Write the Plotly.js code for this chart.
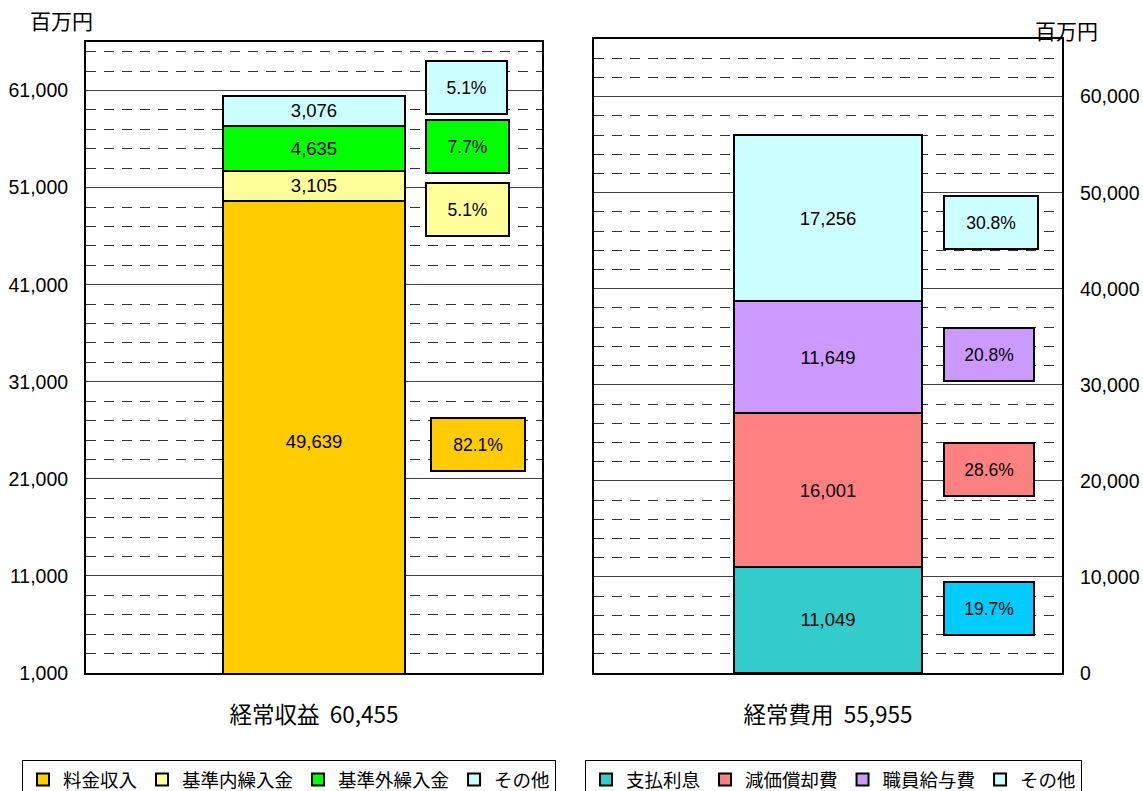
<!DOCTYPE html>
<html>
<head>
<meta charset="utf-8">
<script src="https://cdn.plot.ly/plotly-3.0.1.min.js"></script>
<style>
html,body{margin:0;padding:0;background:#fff;}
#chart{width:1143px;height:791px;}
</style>
</head>
<body>
<div id="chart"></div>
<script>
// ---- data ----
const revenueTitle = '経常収益';
const revenueItems = ['料金収入', '基準内繰入金', '基準外繰入金', 'その他'];
const revenueValues = [49639, 3105, 4635, 3076];

const expenseTitle = '経常費用';
const expenseItems = ['支払利息', '減価償却費', '職員給与費', 'その他'];
const expenseValues = [11049, 16001, 11649, 17256];

const unitLabel = '百万円';

// ---- styles ----
const revenueColors = ['#FFCC00', '#FFFF99', '#00FF00', '#CCFFFF'];
const expenseColors = ['#33CCCC', '#FF8080', '#CC99FF', '#CCFFFF'];
const revenueBoxColors = ['#FFCC00', '#FFFF99', '#00FF00', '#CCFFFF'];
const expenseBoxColors = ['#00CCFF', '#FF8080', '#CC99FF', '#CCFFFF'];
// box placement (x in axis-domain fraction, y in data units, width)
const revenueBoxPos = [[0.859, 24505, 90], [0.837, 48732, 79], [0.837, 55278, 79], [0.835, 61309, 77]];
const expenseBoxPos = [[0.843, 6701, 86], [0.843, 21237, 86], [0.843, 33196, 86], [0.848, 46907, 90]];

const numFont = 'Liberation Sans, Arial, Noto Sans CJK JP, sans-serif';
const jpFont = 'Noto Sans CJK JP, sans-serif';

const sum = a => a.reduce((s, v) => s + v, 0);
const fmt = v => v.toLocaleString('en-US');
const revTotal = sum(revenueValues);
const expTotal = sum(expenseValues);

const traces = [];
revenueItems.forEach((name, i) => {
  traces.push({
    type: 'bar', name: name, x: [revenueTitle], y: [revenueValues[i]],
    xaxis: 'x', yaxis: 'y', width: 0.4, legend: 'legend',
    marker: {color: revenueColors[i], line: {color: '#000', width: 2}},
    texttemplate: '%{y:,d}', textposition: 'inside', insidetextanchor: 'middle',
    textangle: 0, constraintext: 'none',
    textfont: {family: numFont, size: 18.5, color: '#000'},
    hoverinfo: 'name+y'
  });
});
expenseItems.forEach((name, i) => {
  traces.push({
    type: 'bar', name: name, x: [expenseTitle], y: [expenseValues[i]],
    xaxis: 'x2', yaxis: 'y2', width: 0.4, legend: 'legend2',
    marker: {color: expenseColors[i], line: {color: '#000', width: 2}},
    texttemplate: '%{y:,d}', textposition: 'inside', insidetextanchor: 'middle',
    textangle: 0, constraintext: 'none',
    textfont: {family: numFont, size: 18.5, color: '#000'},
    hoverinfo: 'name+y'
  });
});

const annotations = [];
revenueValues.forEach((v, i) => {
  const p = revenueBoxPos[i];
  annotations.push({
    xref: 'x domain', yref: 'y', x: p[0], y: p[1], xanchor: 'center', yanchor: 'middle',
    text: (v / revTotal * 100).toFixed(1) + '%', showarrow: false,
    width: p[2], height: 49, bgcolor: revenueBoxColors[i], bordercolor: '#000', borderwidth: 2, borderpad: 1,
    font: {family: numFont, size: 17.5, color: '#000'}
  });
});
expenseValues.forEach((v, i) => {
  const p = expenseBoxPos[i];
  annotations.push({
    xref: 'x2 domain', yref: 'y2', x: p[0], y: p[1], xanchor: 'center', yanchor: 'middle',
    text: (v / expTotal * 100).toFixed(1) + '%', showarrow: false,
    width: p[2], height: 49, bgcolor: expenseBoxColors[i], bordercolor: '#000', borderwidth: 2, borderpad: 1,
    font: {family: numFont, size: 17.5, color: '#000'}
  });
});
annotations.push({
  xref: 'paper', yref: 'paper', x: 61 / 1143, y: 1 - 20 / 791, xanchor: 'center', yanchor: 'middle',
  text: unitLabel, showarrow: false, font: {family: jpFont, size: 21, color: '#000'}
});
annotations.push({
  xref: 'paper', yref: 'paper', x: 1066 / 1143, y: 1 - 30 / 791, xanchor: 'center', yanchor: 'middle',
  text: unitLabel, showarrow: false, font: {family: jpFont, size: 21, color: '#000'}
});

const yCommon = {
  showline: true, mirror: true, linecolor: '#000', linewidth: 2,
  showgrid: true, gridcolor: '#444', gridwidth: 1,
  dtick: 10000, tickformat: ',d', ticks: '', ticklabelstandoff: 12,
  tickfont: {family: numFont, size: 19.5, color: '#000'}, zeroline: false, fixedrange: true
};
const minorCommon = {dtick: 2000, showgrid: true, gridcolor: '#333', gridwidth: 1, griddash: '10px,8px', ticks: ''};

const xCommon = {
  type: 'category', range: [-0.5, 0.5], showline: true, mirror: true, linecolor: '#000', linewidth: 2,
  showgrid: false, ticks: '', ticklabelstandoff: 21, fixedrange: true,
  tickfont: {family: jpFont, size: 22.5, color: '#000'}
};

const legendCommon = {
  orientation: 'h', yanchor: 'top', xanchor: 'left', traceorder: 'normal',
  bgcolor: '#fff', bordercolor: '#000', borderwidth: 1,
  font: {family: jpFont, size: 18.5, color: '#000'}, itemwidth: 30, tracegroupgap: 0
};

const sp = '\u00A0\u00A0';

const layout = {
  width: 1143, height: 791,
  margin: {l: 0, r: 0, t: 0, b: 0, autoexpand: false},
  paper_bgcolor: '#fff', plot_bgcolor: '#fff',
  barmode: 'stack', showlegend: true,
  xaxis: Object.assign({}, xCommon, {domain: [86 / 1143, 542 / 1143], anchor: 'y',
    tickvals: [revenueTitle], ticktext: [revenueTitle + sp + fmt(revTotal)]}),
  yaxis: Object.assign({}, yCommon, {domain: [1 - 673 / 791, 1 - 42 / 791], anchor: 'x',
    range: [1000, 66000], tick0: 1000, side: 'left',
    minor: Object.assign({}, minorCommon, {tick0: 1000})}),
  xaxis2: Object.assign({}, xCommon, {domain: [594 / 1143, 1062 / 1143], anchor: 'y2',
    tickvals: [expenseTitle], ticktext: [expenseTitle + sp + fmt(expTotal)]}),
  yaxis2: Object.assign({}, yCommon, {domain: [1 - 673 / 791, 1 - 39 / 791], anchor: 'x2',
    range: [0, 66000], tick0: 0, side: 'right',
    minor: Object.assign({}, minorCommon, {tick0: 0})}),
  legend: Object.assign({}, legendCommon, {x: 22 / 1143, y: 1 - 760 / 791}),
  legend2: Object.assign({}, legendCommon, {x: 585 / 1143, y: 1 - 760 / 791}),
  annotations: annotations
};

Plotly.newPlot('chart', traces, layout, {displayModeBar: false, staticPlot: true});
</script>
</body>
</html>
